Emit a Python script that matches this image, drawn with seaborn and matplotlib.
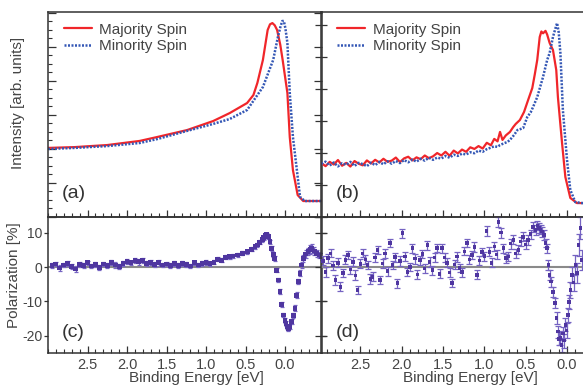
import matplotlib
matplotlib.use('Agg')
import matplotlib.pyplot as plt
import seaborn as sns
from matplotlib.ticker import MultipleLocator, FixedLocator, FormatStrFormatter, NullFormatter

# spin-resolved spectra, panel (a)
a_major_energy = [3.00, 2.66, 2.25, 1.84, 1.62, 1.24, 0.91, 0.70, 0.48, 0.40,
                  0.35, 0.28, 0.22, 0.19, 0.16, 0.13, 0.10, 0.06, 0.03, -0.03,
                  -0.06, -0.10, -0.16, -0.23, -0.47]
a_major = [33.7, 34.1, 35.1, 37.1, 39.0, 42.4, 46.8, 50.7, 55.6, 59.5,
           65.4, 76.6, 91.2, 94.0, 94.6, 93.5, 91.2, 84.0, 76.6, 60.5,
           39.0, 22.9, 10.7, 7.8, 7.8]
a_minor_energy = [3.00, 2.66, 2.25, 1.84, 1.62, 1.24, 0.91, 0.70, 0.48, 0.28,
                  0.15, 0.09, 0.06, 0.035, 0.015, -0.005, -0.03, -0.06, -0.10, -0.15,
                  -0.19, -0.25, -0.47]
a_minor = [33.2, 33.7, 34.6, 36.1, 38.0, 42.0, 45.4, 47.8, 52.2, 63.4,
           76.6, 87.8, 92.5, 95.6, 95.6, 92.0, 84.9, 60.5, 39.0, 22.9,
           9.8, 7.8, 7.8]

# panel (b)
b_major_energy = [2.97, 2.92, 2.87, 2.82, 2.77, 2.72, 2.67, 2.62, 2.57, 2.52,
                  2.47, 2.42, 2.37, 2.32, 2.27, 2.22, 2.17, 2.12, 2.07, 2.02,
                  1.97, 1.92, 1.87, 1.82, 1.77, 1.72, 1.67, 1.62, 1.57, 1.52,
                  1.47, 1.42, 1.37, 1.32, 1.27, 1.22, 1.17, 1.12, 1.07, 1.02,
                  0.97, 0.92, 0.88, 0.84, 0.81, 0.78, 0.74, 0.69, 0.65, 0.62,
                  0.57, 0.52, 0.47, 0.42, 0.39, 0.36, 0.33, 0.31, 0.29, 0.26,
                  0.24, 0.21, 0.17, 0.13, 0.11, 0.06, 0.02, -0.04, -0.12, -0.53]
b_major = [26.3, 24.8, 26.9, 25.6, 27.8, 25.0, 26.4, 24.6, 27.3, 26.0,
           25.2, 27.6, 26.1, 27.9, 26.6, 28.4, 26.9, 27.5, 29.0, 26.8,
           28.6, 29.4, 27.6, 29.1, 28.2, 30.0, 28.7, 29.6, 31.2, 30.0,
           31.8, 29.9, 32.4, 31.0, 32.9, 31.8, 34.0, 33.2, 34.6, 33.4,
           36.2, 35.0, 38.1, 36.9, 41.5, 37.6, 39.8, 41.5, 43.9, 45.4,
           47.3, 51.2, 57.1, 62.9, 69.5, 76.6, 87.8, 90.5, 89.6, 90.8,
           89.0, 84.9, 81.5, 71.7, 58.5, 36.1, 19.5, 9.3, 6.8, 6.8]
b_minor_energy = [2.97, 2.92, 2.87, 2.82, 2.77, 2.72, 2.67, 2.62, 2.57, 2.52,
                  2.47, 2.42, 2.37, 2.32, 2.27, 2.22, 2.17, 2.12, 2.07, 2.02,
                  1.97, 1.92, 1.87, 1.82, 1.77, 1.72, 1.67, 1.62, 1.57, 1.52,
                  1.47, 1.42, 1.37, 1.32, 1.27, 1.22, 1.17, 1.12, 1.07, 1.02,
                  0.97, 0.93, 0.88, 0.84, 0.81, 0.76, 0.72, 0.69, 0.64, 0.60,
                  0.57, 0.53, 0.48, 0.44, 0.41, 0.36, 0.29, 0.24, 0.21, 0.17,
                  0.14, 0.12, 0.10, 0.08, 0.05, 0.00, -0.04, -0.10, -0.18, -0.53]
b_minor = [25.9, 27.0, 25.1, 26.6, 24.7, 26.2, 25.5, 26.9, 24.9, 26.4,
           25.8, 24.8, 26.5, 25.3, 26.9, 25.7, 27.2, 26.0, 27.3, 26.3,
           27.8, 26.7, 28.0, 27.0, 28.4, 27.5, 28.9, 27.9, 29.0, 28.5,
           29.8, 28.9, 30.4, 29.8, 30.9, 30.5, 31.6, 31.1, 32.4, 31.8,
           33.1, 33.7, 34.5, 34.2, 35.1, 36.0, 36.6, 37.6, 40.0, 42.4,
           42.8, 43.4, 48.8, 51.0, 53.7, 58.5, 68.3, 76.6, 80.0, 87.8,
           92.0, 94.6, 90.0, 80.0, 52.2, 27.8, 13.2, 7.3, 6.8, 6.8]

# spin polarization, panel (c)
c_energy = [2.95, 2.90, 2.85, 2.80, 2.75, 2.70, 2.65, 2.60, 2.55, 2.50,
            2.45, 2.40, 2.35, 2.30, 2.25, 2.20, 2.15, 2.10, 2.05, 2.00,
            1.95, 1.90, 1.85, 1.80, 1.75, 1.70, 1.65, 1.60, 1.55, 1.50,
            1.45, 1.40, 1.35, 1.30, 1.25, 1.20, 1.15, 1.10, 1.05, 1.00,
            0.95, 0.90, 0.85, 0.80, 0.75, 0.70, 0.66, 0.60, 0.54, 0.48,
            0.42, 0.38, 0.35, 0.32, 0.29, 0.27, 0.25, 0.23, 0.21, 0.19,
            0.17, 0.15, 0.13, 0.105, 0.085, 0.063, 0.042, 0.02, 0.0, -0.013,
            -0.027, -0.04, -0.06, -0.085, -0.105, -0.127, -0.15, -0.17, -0.19, -0.21,
            -0.23, -0.26, -0.29, -0.32, -0.34, -0.37, -0.40, -0.43, -0.465]
c_pol = [0.5, 0.9, -0.3, 0.6, 1.1, 0.2, -0.6, 0.8, 0.4, 1.2,
         0.3, 0.7, -0.2, 0.9, 0.5, 1.3, 0.6, 0.2, 1.0, 1.6,
         1.2, 2.0, 1.5, 1.9, 1.1, 1.4, 0.8, 1.2, 0.6, 0.9,
         0.4, 1.0, 0.5, 1.1, 0.7, 0.3, 1.2, 0.6, 1.0, 1.4,
         1.0, 1.4, 2.3, 2.0, 2.8, 3.0, 3.2, 3.5, 4.0, 4.5,
         5.2, 5.9, 6.4, 7.2, 8.0, 8.6, 9.2, 9.4, 8.8, 7.4,
         5.4, 3.6, 2.5, -0.9, -3.8, -7.2, -11.0, -14.0, -15.6, -16.4,
         -17.5, -17.9, -17.4, -15.9, -14.2, -12.0, -8.2, -4.3, -1.8, 0.6,
         2.5, 3.8, 4.5, 5.1, 5.4, 4.7, 4.0, 3.5, 3.0]
c_err = [0.7, 0.7, 0.8, 0.7, 0.7, 0.7, 0.8, 0.7, 0.7, 0.7,
         0.7, 0.8, 0.7, 0.7, 0.7, 0.7, 0.8, 0.7, 0.7, 0.7,
         0.7, 0.7, 0.8, 0.7, 0.7, 0.7, 0.7, 0.8, 0.7, 0.7,
         0.7, 0.7, 0.7, 0.8, 0.7, 0.7, 0.7, 0.7, 0.7, 0.7,
         0.6, 0.6, 0.6, 0.6, 0.6, 0.6, 0.6, 0.6, 0.6, 0.6,
         0.6, 0.6, 0.6, 0.6, 0.6, 0.6, 0.6, 0.6, 0.6, 0.6,
         0.6, 0.6, 0.6, 0.6, 0.6, 0.7, 0.7, 0.7, 0.7, 0.7,
         0.7, 0.7, 0.7, 0.7, 0.7, 0.8, 0.8, 0.8, 0.9, 0.9,
         1.0, 1.1, 1.1, 1.2, 1.2, 1.1, 1.0, 1.0, 1.0]

# spin polarization, panel (d)
d_energy = [2.95, 2.92, 2.89, 2.86, 2.83, 2.80, 2.77, 2.74, 2.71, 2.68,
            2.65, 2.62, 2.59, 2.56, 2.53, 2.50, 2.47, 2.44, 2.41, 2.38,
            2.35, 2.32, 2.29, 2.26, 2.23, 2.20, 2.17, 2.14, 2.11, 2.08,
            2.05, 2.02, 1.99, 1.96, 1.93, 1.90, 1.87, 1.84, 1.81, 1.78,
            1.75, 1.72, 1.69, 1.66, 1.63, 1.60, 1.57, 1.54, 1.51, 1.48,
            1.45, 1.42, 1.39, 1.36, 1.33, 1.30, 1.27, 1.24, 1.21, 1.18,
            1.15, 1.12, 1.09, 1.06, 1.03, 1.00, 0.97, 0.94, 0.91, 0.88,
            0.85, 0.83, 0.80, 0.77, 0.74, 0.71, 0.68, 0.65, 0.62, 0.59,
            0.56, 0.53, 0.50, 0.47, 0.44, 0.41, 0.38, 0.36, 0.34, 0.32,
            0.30, 0.28, 0.26, 0.24, 0.225, 0.21, 0.195, 0.17, 0.145, 0.125,
            0.11, 0.095, 0.08, 0.065, 0.05, 0.035, 0.02, 0.005, -0.01, -0.025,
            -0.04, -0.06, -0.08, -0.10, -0.12, -0.14, -0.16, -0.18]
d_pol = [1.8, -1.4, 2.6, 4.0, 0.5, -3.8, 1.2, -5.8, -1.8, 2.1,
         3.5, -0.8, 1.5, -2.4, -6.7, 0.9, 4.0, 2.2, 0.6, -3.5,
         -2.9, 2.8, 5.0, -3.8, 1.0, 4.0, -1.2, 7.0, 0.6, 2.9,
         -4.7, 1.8, 9.9, 3.0, -1.5, 0.0, 5.5, 2.4, -2.2, 2.0,
         3.8, -0.4, 6.4, 1.5, -0.9, 2.7, 5.5, -2.0, 5.5, 2.8,
         1.2, -1.6, -4.7, 0.8, 3.0, -0.3, -1.5, 4.6, 7.0, 2.2,
         3.5, 5.8, -2.3, 1.9, 4.4, 3.2, 10.5, 4.4, 1.2, 6.0,
         3.6, 13.1, 10.0, 5.5, 2.6, 3.0, 6.8, 7.9, 4.0, 5.0,
         7.4, 8.8, 6.5, 7.9, 9.6, 11.7, 10.8, 12.2, 11.4, 10.9,
         10.3, 9.4, 7.0, 5.5, 0.6, -2.3, -4.3, -7.3, -10.5, -14.9,
         -18.9, -21.0, -20.7, -22.8, -19.4, -21.5, -16.9, -18.5, -14.0, -10.2,
         -6.7, -2.3, -4.5, 0.6, -1.8, 6.4, 11.4, 2.0]
d_err = [1.3, 1.4, 1.3, 1.2, 1.3, 1.4, 1.3, 1.3, 1.2, 1.3,
         1.3, 1.2, 1.3, 1.4, 1.3, 1.3, 1.2, 1.3, 1.3, 1.4,
         1.3, 1.3, 1.2, 1.3, 1.4, 1.3, 1.3, 1.2, 1.3, 1.3,
         1.3, 1.4, 1.3, 1.3, 1.2, 1.3, 1.3, 1.4, 1.3, 1.3,
         1.2, 1.3, 1.3, 1.4, 1.3, 1.3, 1.2, 1.3, 1.3, 1.4,
         1.3, 1.3, 1.2, 1.3, 1.4, 1.3, 1.3, 1.2, 1.3, 1.3,
         1.3, 1.4, 1.3, 1.3, 1.2, 1.3, 1.4, 1.3, 1.3, 1.4,
         1.3, 1.4, 1.4, 1.3, 1.3, 1.3, 1.4, 1.3, 1.3, 1.3,
         1.4, 1.3, 1.3, 1.4, 1.3, 1.4, 1.4, 1.3, 1.4, 1.3,
         1.4, 1.4, 1.3, 1.3, 1.5, 1.5, 1.4, 1.5, 1.6, 1.7,
         1.8, 1.9, 2.0, 2.0, 1.9, 2.0, 1.9, 2.1, 2.0, 2.1,
         2.2, 2.4, 2.6, 2.8, 3.0, 3.2, 3.3, 3.0]

energy_ticks = [2.5, 2.0, 1.5, 1.0, 0.5, 0.0]
pol_ticks = [10, 0, -10, -20]

RED = '#f0262a'
BLUE = '#3457b5'
PURPLE = '#4f36a0'
PURPLE_ERR = '#7563c2'
TEXT = '#444444'
SPINE = '#333333'

sns.set_theme(style='ticks')
plt.rcParams['font.family'] = ['Liberation Sans', 'DejaVu Sans']
plt.rcParams['axes.unicode_minus'] = False
plt.rcParams['axes.edgecolor'] = SPINE
plt.rcParams['axes.linewidth'] = 1.1

W, H = 583, 387
fig = plt.figure(figsize=(W / 100, H / 100), dpi=100)


def add_axes(x0, y0, x1, y1):
    ax = fig.add_axes([x0 / W, 1 - y1 / H, (x1 - x0) / W, (y1 - y0) / H])
    ax.set_facecolor('none')
    return ax


ax_a = add_axes(48, 12, 322, 217)
ax_b = add_axes(321, 12, 611, 217)
ax_c = add_axes(48, 217, 322, 353)
ax_d = add_axes(321, 217, 611, 353)

xlims = {ax_a: (3.0, -0.468), ax_c: (3.0, -0.468),
         ax_b: (2.975, -0.532), ax_d: (2.975, -0.532)}

# spectra
for ax, e1, i1, e2, i2 in [(ax_a, a_major_energy, a_major, a_minor_energy, a_minor),
                           (ax_b, b_major_energy, b_major, b_minor_energy, b_minor)]:
    sns.lineplot(x=e1, y=i1, ax=ax, color=RED, lw=1.6, label='Majority Spin',
                 estimator=None, sort=False)
    sns.lineplot(x=e2, y=i2, ax=ax, color=BLUE, lw=1.8, linestyle=(0, (0.8, 0.6)),
                 label='Minority Spin', estimator=None, sort=False)
    ax.set_ylim(0, 100)
    leg = ax.legend(loc='upper left', bbox_to_anchor=(0.02, 1.0), frameon=False,
                    fontsize=11, handlelength=1.8, handletextpad=0.5,
                    labelspacing=0.15, borderaxespad=0.3)
    for t in leg.get_texts():
        t.set_color(TEXT)
    ax.set_xlabel('')
    ax.set_ylabel('')
    ax.tick_params(axis='x', which='both', direction='in', bottom=True, top=False,
                   labelbottom=False, color=SPINE)
    ax.tick_params(axis='x', which='major', length=5, width=0.9)
    ax.tick_params(axis='x', which='minor', length=3, width=0.8)
    ax.set_yticklabels([])

ax_a.yaxis.set_major_locator(MultipleLocator(16.6))
ax_a.yaxis.set_minor_locator(MultipleLocator(4.15))
ax_a.tick_params(axis='y', which='both', direction='in', left=True, right=True,
                 labelleft=False, color=SPINE)
ax_a.tick_params(axis='y', which='major', length=6, width=0.9)
ax_a.tick_params(axis='y', which='minor', length=3, width=0.8, right=False)
ax_b.yaxis.set_major_locator(MultipleLocator(15.6))
ax_b.tick_params(axis='y', which='major', direction='inout', left=True, length=8,
                 width=0.9, labelleft=False, color=SPINE)

# polarization
for ax, e, p, err, cap, size in [(ax_c, c_energy, c_pol, c_err, 1.5, 12),
                                 (ax_d, d_energy, d_pol, d_err, 2.2, 6)]:
    ax.axhline(0, color='#8a8a8a', lw=1.5, zorder=1)
    ax.errorbar(e, p, yerr=err, fmt='none', ecolor=PURPLE_ERR, elinewidth=0.9,
                capsize=cap, capthick=0.9, zorder=2)
    sns.scatterplot(x=e, y=p, ax=ax, color=PURPLE, marker='s', s=size,
                    edgecolor='none', zorder=3)
    ax.set_ylim(-25.1, 14.6)
    ax.yaxis.set_major_locator(FixedLocator(pol_ticks))
    ax.set_xlabel('Binding Energy [eV]', fontsize=11, color=TEXT)
    ax.tick_params(axis='x', which='both', direction='in', bottom=True, top=False,
                   color=SPINE, labelsize=10.5, labelcolor=TEXT, pad=3.5)
    ax.tick_params(axis='x', which='major', length=5, width=0.9)
    ax.tick_params(axis='x', which='minor', length=3, width=0.8)

ax_c.set_ylabel('Polarization [%]', fontsize=11, color=TEXT)
ax_c.tick_params(axis='y', direction='out', left=True, right=True, length=3,
                 width=0.9, color=SPINE, labelsize=10, labelcolor=TEXT, pad=1.0)
ax_d.tick_params(axis='y', direction='inout', left=True, length=8, width=0.9,
                 color=SPINE, labelleft=False)

ax_a.set_ylabel('Intensity [arb. units]', fontsize=11, color=TEXT)
ax_a.yaxis.set_label_coords(-0.085, 0.556)
ax_c.yaxis.set_label_coords(-0.098, 0.57)
ax_c.xaxis.set_label_coords(0.54, -0.135)
ax_d.xaxis.set_label_coords(0.514, -0.135)

for ax in [ax_a, ax_b, ax_c, ax_d]:
    ax.set_xlim(*xlims[ax])
    ax.xaxis.set_major_locator(FixedLocator(energy_ticks))
    ax.xaxis.set_minor_locator(MultipleLocator(0.1))
    ax.xaxis.set_major_formatter(FormatStrFormatter('%.1f'))
    for s in ax.spines.values():
        s.set_visible(True)
        s.set_color(SPINE)
ax_a.xaxis.set_major_formatter(NullFormatter())
ax_b.xaxis.set_major_formatter(NullFormatter())

for ax, lab, y in [(ax_a, '(a)', 0.115), (ax_b, '(b)', 0.115),
                   (ax_c, '(c)', 0.15), (ax_d, '(d)', 0.15)]:
    ax.text(0.05, y, lab, transform=ax.transAxes, fontsize=14, color='#333333',
            va='center', ha='left')

fig.savefig('out.png', dpi=100)
